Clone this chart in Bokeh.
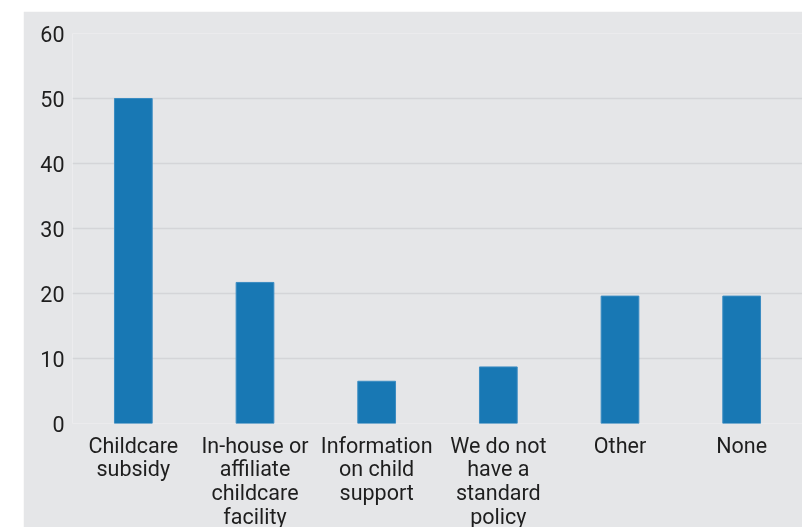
from bokeh.plotting import figure
from bokeh.models import ColumnDataSource, FactorRange, Range1d, FixedTicker
from bokeh.embed import file_html
from bokeh.resources import INLINE

categories = [
    "Childcare\nsubsidy",
    "In-house or\naffiliate\nchildcare\nfacility",
    "Information\non child\nsupport",
    "We do not\nhave a\nstandard\npolicy",
    "Other",
    "None",
]
values = [50.0, 21.7, 6.5, 8.7, 19.6, 19.6]
y_ticks = [0, 10, 20, 30, 40, 50, 60]

BG = "#e5e6e8"

src = ColumnDataSource(dict(x=categories, top=values))

p = figure(
    x_range=FactorRange(*categories, range_padding=0),
    y_range=Range1d(0, 60),
    width=779, height=530,
    output_backend="svg", toolbar_location=None,
    background_fill_color=BG, border_fill_color=BG,
    min_border_left=49, min_border_right=0, min_border_top=22, min_border_bottom=118,
    outline_line_color=None,
)
p.styles = {"position": "fixed", "left": "23px", "top": "11px"}

p.vbar(x="x", top="top", width=0.31, source=src, fill_color="#1878b4",
       line_color="#3a8cc2", line_width=1)

p.xgrid.grid_line_color = None
p.ygrid.grid_line_color = "#d4d5d8"
p.ygrid.grid_line_width = 1.5
p.yaxis.ticker = FixedTicker(ticks=y_ticks)

for ax in (p.xaxis, p.yaxis):
    ax.axis_line_color = None
    ax.major_tick_line_color = None
    ax.minor_tick_line_color = None
    ax.major_tick_out = 0
    ax.major_tick_in = 0
    ax.major_label_text_font = "Roboto"
    ax.major_label_text_font_size = "21.5px"
    ax.major_label_text_color = "#1e1e1e"

p.yaxis.major_label_standoff = 8
p.xaxis.major_label_standoff = 9
p.xaxis.major_label_text_line_height = 0.95

open("out.html", "w").write(file_html(p, INLINE))
